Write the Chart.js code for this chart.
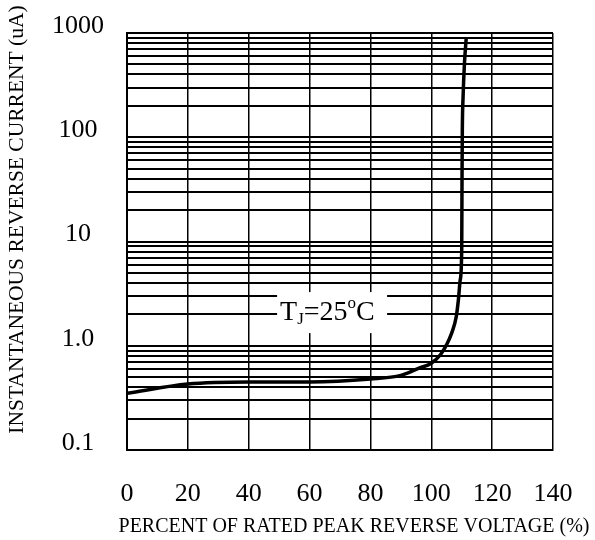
<!DOCTYPE html>
<html><head><meta charset="utf-8">
<script src="https://cdn.jsdelivr.net/npm/chart.js@4/dist/chart.umd.min.js"></script>
<style>html,body{margin:0;padding:0;background:#fff}#wrap{width:595px;height:540px;position:relative}</style>
</head><body><div id="wrap"><canvas id="c" width="595" height="540"></canvas></div>
<script>
// ---- data ----
const voltagePct = [0, 20, 40, 60, 80, 90, 96, 100, 103, 105, 106.7, 108.2, 108.9, 109.5, 110.0, 110.1, 110.2, 110.45, 110.9, 111.5];
const reverseCurrent = [0.35, 0.43, 0.45, 0.45, 0.48, 0.52, 0.61, 0.68, 0.82, 1.02, 1.32, 1.9, 2.75, 4.27, 8.3, 38.9, 117, 245, 512, 910];
const xTickValues = [0, 20, 40, 60, 80, 100, 120, 140];
const xTickLabels = ['0', '20', '40', '60', '80', '100', '120', '140'];
const yDecadeValues = [0.1, 1, 10, 100, 1000];
const yTickLabels = ['0.1', '1.0', '10', '100', '1000'];
const xTitle = 'PERCENT OF RATED PEAK REVERSE VOLTAGE (%)';
const yTitle = 'INSTANTANEOUS REVERSE CURRENT (uA)';
const noteParts = [
  {text: 'T', kind: 'main'}, {text: 'J', kind: 'sub'}, {text: '=25', kind: 'main'},
  {text: 'o', kind: 'sup'}, {text: 'C', kind: 'main'}
];

const SERIF = '"Liberation Serif", "Times New Roman", serif';

const notePlugin = {
  id: 'tjNote',
  afterDatasetsDraw(chart, args, o) {
    const {ctx, scales: {x, y}} = chart;
    const cx = x.getPixelForValue(o.xValue), cy = y.getPixelForValue(o.yValue);
    ctx.save();
    ctx.fillStyle = '#fff';
    ctx.fillRect(cx - o.boxW / 2, cy - o.boxH / 2, o.boxW, o.boxH);
    ctx.fillStyle = '#000';
    ctx.textAlign = 'left';
    ctx.textBaseline = 'alphabetic';
    let px = cx - o.boxW / 2 + o.inset;
    const base = cy + o.baseShift;
    for (const p of noteParts) {
      const size = p.kind === 'main' ? o.size : o.smallSize;
      ctx.font = size + 'px ' + SERIF;
      const dy = p.kind === 'sub' ? o.subShift : (p.kind === 'sup' ? -o.supShift : 0);
      ctx.fillText(p.text, px, base + dy);
      px += ctx.measureText(p.text).width;
    }
    ctx.restore();
  }
};

const axisTitlePlugin = {
  id: 'axisTitles',
  afterDraw(chart, args, o) {
    const {ctx, chartArea} = chart;
    ctx.save();
    ctx.fillStyle = '#000';
    ctx.textAlign = 'center';
    ctx.textBaseline = 'middle';
    ctx.font = o.xSize + 'px ' + SERIF;
    ctx.fillText(xTitle, (chartArea.left + chartArea.right) / 2 + o.xShift, chart.height - o.xFromBottom);
    ctx.font = o.ySize + 'px ' + SERIF;
    ctx.translate(o.yFromLeft, (chartArea.top + chartArea.bottom) / 2 + o.yShift);
    ctx.rotate(-Math.PI / 2);
    ctx.fillText(yTitle, 0, 0);
    ctx.restore();
  }
};

new Chart(document.getElementById('c'), {
  type: 'line',
  data: {
    datasets: [{
      data: voltagePct.map((v, i) => ({x: v, y: reverseCurrent[i]})),
      borderColor: '#000',
      borderWidth: 3.5,
      pointRadius: 0,
      fill: false,
      cubicInterpolationMode: 'monotone'
    }]
  },
  options: {
    responsive: false,
    devicePixelRatio: 1,
    animation: false,
    events: [],
    layout: {padding: {top: 33, right: 42, left: 0, bottom: 0}},
    plugins: {
      legend: {display: false},
      tooltip: {enabled: false},
      tjNote: {xValue: 67.4, yValue: 2.08, boxW: 110, boxH: 41, inset: 3, baseShift: 7,
               size: 28, smallSize: 17, subShift: 4, supShift: 12},
      axisTitles: {xSize: 20, ySize: 21.5, xShift: 14, xFromBottom: 13, yFromLeft: 17, yShift: -22}
    },
    scales: {
      x: {
        type: 'linear', min: 0, max: 140,
        afterBuildTicks: s => { s.ticks = xTickValues.map(v => ({value: v})); },
        afterFit: s => { s.height = 90; s.paddingLeft = 0; s.paddingRight = 0; },
        ticks: {
          callback: v => xTickLabels[xTickValues.indexOf(v)],
          font: {family: SERIF, size: 26}, color: '#000',
          padding: 29, maxRotation: 0, autoSkip: false
        },
        grid: {color: '#000', lineWidth: 1.5, drawTicks: false},
        border: {display: true, color: '#000', width: 2}
      },
      y: {
        type: 'logarithmic', min: 0.1, max: 1000,
        afterBuildTicks: s => {
          const t = [];
          for (let i = 0; i < yDecadeValues.length - 1; i++) {
            for (let m = 1; m <= 9; m++) t.push({value: Number((yDecadeValues[i] * m).toPrecision(6))});
          }
          t.push({value: yDecadeValues[yDecadeValues.length - 1]});
          s.ticks = t;
        },
        afterFit: s => { s.width = 127; s.paddingTop = 0; s.paddingBottom = 0; },
        ticks: {
          callback: v => {
            const i = yDecadeValues.findIndex(d => Math.abs(d - v) / d < 1e-6);
            return i >= 0 ? yTickLabels[i] : '';
          },
          font: {family: SERIF, size: 26}, color: '#000',
          padding: 23, crossAlign: 'center', labelOffset: -7, autoSkip: false
        },
        grid: {color: '#000', lineWidth: 2, drawTicks: false},
        border: {display: true, color: '#000', width: 2}
      }
    }
  },
  plugins: [notePlugin, axisTitlePlugin]
});
</script>
</body></html>
